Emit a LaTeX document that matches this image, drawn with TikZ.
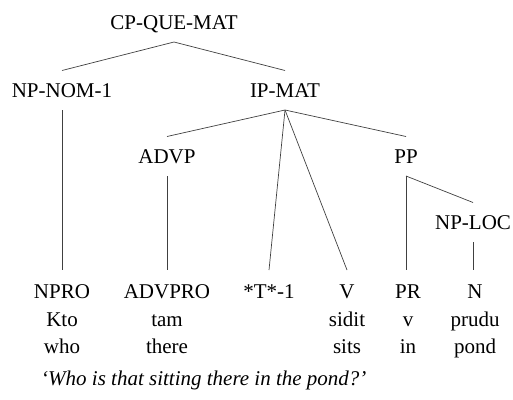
\documentclass[tikz,border=0pt]{standalone}
\usepackage{fontspec}
\setmainfont{Liberation Serif}

\tikzset{
  cat/.style={font=\fontsize{21}{28}\selectfont, inner sep=0pt, text height=13.5pt, text depth=0pt, outer ysep=13pt, anchor=base},
  leaf/.style={font=\fontsize{21}{27.5}\selectfont, inner sep=0pt, align=center, anchor=north, outer ysep=15pt},
  branch/.style={line width=0.7pt, black!75}
}

\begin{document}
\begin{tikzpicture}[x=1pt,y=-1pt]
  \useasboundingbox (0,0) rectangle (513,399);
  % Categories
  \node[cat] (cp) at (174,29) {CP-QUE-MAT};
  \node[cat] (npnom) at (62,97) {NP-NOM-1};
  \node[cat] (ip) at (285,97) {IP-MAT};
  \node[cat] (advp) at (167,163) {ADVP};
  \node[cat] (pp) at (406,163) {PP};
  \node[cat] (nploc) at (473,229) {NP-LOC};
  % Leaves with the words under them
  \node[leaf] (npro) at (62,270) {NPRO\\Kto\\who};
  \node[leaf] (advpro) at (167,270) {ADVPRO\\tam\\there};
  \node[leaf] (trace) at (269,270) {*T*-1};
  \node[leaf] (verb) at (347,270) {V\\sidit\\sits};
  \node[leaf] (prep) at (408,270) {PR\\v\\in};
  \node[leaf] (noun) at (475,270) {N\\prudu\\pond};
  % Branches
  \foreach \a/\b in {cp/npnom,cp/ip,ip/advp,ip/pp,ip/trace,ip/verb,pp/nploc}
    \draw[branch] (\a.south) -- (\b.north);
  \foreach \a/\b in {npnom/npro,advp/advpro,pp/prep,nploc/noun}
    \draw[branch] (\a.south) -- (\a.south |- \b.north);
  % Translation
  \node[font=\fontsize{21}{26}\selectfont\itshape, inner sep=0pt, anchor=base west] (gloss) at (41,385) {`Who is that sitting there in the pond?'};
\end{tikzpicture}
\end{document}
